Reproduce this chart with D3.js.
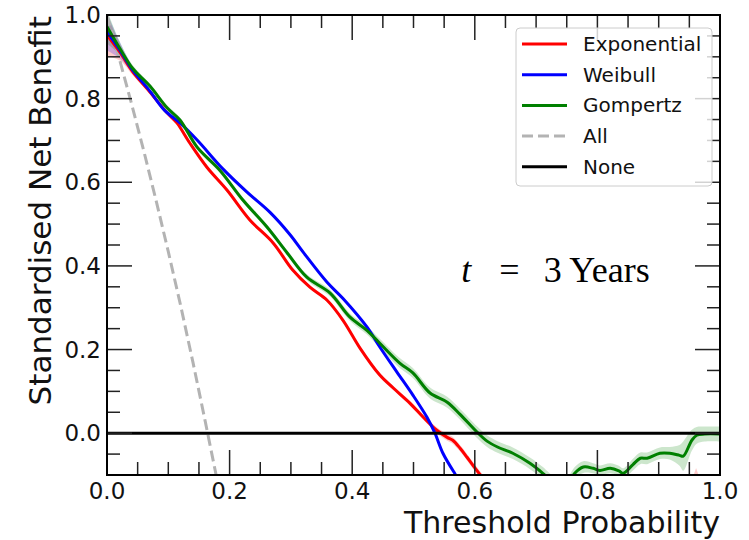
<!DOCTYPE html>
<html><head><meta charset="utf-8">
<script src="https://cdn.jsdelivr.net/npm/d3@7"></script>
<style>body{margin:0;background:#fff}svg{display:block}</style>
</head><body>
<svg id="c" width="749" height="540"></svg>
<script>
// ---- data ----
const expX = [0,0.021,0.042,0.070,0.098,0.114,0.135,0.163,0.196,0.233,0.271,0.303,0.331,0.359,0.385,0.413,0.445,0.467,0.494,0.516,0.538,0.555,0.564,0.576,0.587,0.597,0.608,0.62];
const expY = [0.952,0.911,0.864,0.816,0.766,0.742,0.694,0.636,0.581,0.510,0.455,0.390,0.349,0.318,0.270,0.203,0.139,0.108,0.072,0.038,0.007,-0.010,-0.017,-0.036,-0.057,-0.077,-0.098,-0.12];
const expBand = [0.05,0.02,0.008,0.005,0.004,0.004,0.004,0.004,0.004,0.004,0.004,0.004,0.004,0.004,0.004,0.004,0.005,0.005,0.006,0.006,0.007,0.008,0.008,0.008,0.008,0.008,0.008,0.008];

const weiX = [0,0.021,0.042,0.070,0.094,0.119,0.147,0.189,0.228,0.266,0.299,0.320,0.359,0.385,0.424,0.445,0.473,0.499,0.522,0.535,0.548,0.568,0.58];
const weiY = [0.960,0.916,0.868,0.818,0.772,0.742,0.701,0.632,0.577,0.528,0.474,0.433,0.361,0.322,0.254,0.206,0.146,0.091,0.038,0.0,-0.048,-0.098,-0.125];
const weiBand = [0.045,0.02,0.008,0.004,0.003,0.003,0.003,0.003,0.003,0.003,0.003,0.003,0.003,0.003,0.003,0.003,0.003,0.003,0.003,0.003,0.003,0.003,0.003];

const gomX = [0,0.021,0.042,0.070,0.098,0.119,0.147,0.184,0.222,0.261,0.294,0.326,0.364,0.396,0.424,0.445,0.478,0.499,0.527,0.555,0.576,0.604,0.620,0.637,0.662,0.690,0.711,0.725];
const gomY = [0.972,0.920,0.872,0.830,0.778,0.749,0.684,0.629,0.557,0.493,0.431,0.373,0.335,0.278,0.246,0.215,0.167,0.144,0.096,0.074,0.045,0.002,-0.019,-0.033,-0.048,-0.072,-0.096,-0.115];
const gomBand = [0.04,0.015,0.008,0.006,0.006,0.006,0.006,0.006,0.006,0.006,0.006,0.007,0.008,0.009,0.010,0.011,0.012,0.012,0.013,0.013,0.013,0.014,0.014,0.014,0.014,0.014,0.015,0.015];

const gom2X = [0.755,0.763,0.777,0.793,0.804,0.821,0.835,0.842,0.858,0.870,0.881,0.902,0.918,0.934,0.940,0.954,0.962,0.975,1.0];
const gom2Y = [-0.115,-0.096,-0.081,-0.084,-0.089,-0.084,-0.090,-0.096,-0.075,-0.060,-0.060,-0.048,-0.048,-0.053,-0.055,-0.017,-0.005,-0.002,-0.002];
const gom2Band = [0.015,0.015,0.014,0.012,0.012,0.012,0.012,0.012,0.014,0.014,0.014,0.014,0.015,0.025,0.035,0.025,0.02,0.018,0.018];

const allX = [0,0.02,0.04,0.06,0.08,0.10,0.12,0.14,0.16,0.178];
const allY = [1.0,0.896,0.788,0.675,0.557,0.434,0.306,0.171,0.030,-0.10];

const noneX = [0,1];
const noneY = [0,0];

const spikeX = [0.957,0.961,0.965];
const spikeLo = [-0.12,-0.12,-0.12];
const spikeHi = [-0.1,-0.083,-0.1];

const xTicks = [0,0.2,0.4,0.6,0.8,1.0];
const yTicks = [0,0.2,0.4,0.6,0.8,1.0];
const legendNames = ["Exponential","Weibull","Gompertz","All","None"];
const colors = {Exponential:"#ff0000",Weibull:"#0000ff",Gompertz:"#008000",All:"#b3b3b3",None:"#000000"};

// ---- layout ----
const W=749,H=540;
const m={left:107,top:15,right:29,bottom:65};
const pw=W-m.left-m.right, ph=H-m.top-m.bottom;
const svg=d3.select("#c");
const x=d3.scaleLinear().domain([0,1]).range([m.left,m.left+pw]);
const y=d3.scaleLinear().domain([-0.1,1.0]).range([m.top+ph,m.top]);

svg.append("defs").append("clipPath").attr("id","clip")
  .append("rect").attr("x",m.left).attr("y",m.top).attr("width",pw).attr("height",ph);
const g=svg.append("g").attr("clip-path","url(#clip)");

function pts(xs,ys){return xs.map((v,i)=>[v,ys[i]]);}
const line=d3.line().x(d=>x(d[0])).y(d=>y(d[1])).curve(d3.curveCatmullRom.alpha(0.5));
function band(xs,ys,hw,col,op){
  const a=d3.area().x((d,i)=>x(xs[i])).y0((d,i)=>y(ys[i]-hw[i])).y1((d,i)=>y(ys[i]+hw[i])).curve(d3.curveCatmullRom.alpha(0.5));
  g.append("path").attr("d",a(xs)).attr("fill",col).attr("fill-opacity",op).attr("stroke","none");
}
band(expX,expY,expBand,"#ff0000",0.2);
band(weiX,weiY,weiBand,"#0000ff",0.2);
band(gomX,gomY,gomBand,"#008000",0.2);
band(gom2X,gom2Y,gom2Band,"#008000",0.2);
g.append("path").attr("d",d3.area().x((d,i)=>x(spikeX[i])).y0((d,i)=>y(spikeLo[i])).y1((d,i)=>y(spikeHi[i]))(spikeX)).attr("fill","#ff0000").attr("fill-opacity",0.2);

g.append("path").attr("d",d3.line().x(d=>x(d[0])).y(d=>y(d[1]))(pts(allX,allY))).attr("fill","none")
  .attr("stroke",colors.All).attr("stroke-width",3).attr("stroke-dasharray","11,5");
g.append("path").attr("d",line(pts(expX,expY))).attr("fill","none").attr("stroke",colors.Exponential).attr("stroke-width",3);
g.append("path").attr("d",line(pts(weiX,weiY))).attr("fill","none").attr("stroke",colors.Weibull).attr("stroke-width",3);
g.append("path").attr("d",line(pts(gomX,gomY))).attr("fill","none").attr("stroke",colors.Gompertz).attr("stroke-width",3);
g.append("path").attr("d",line(pts(gom2X,gom2Y))).attr("fill","none").attr("stroke",colors.Gompertz).attr("stroke-width",3);
g.append("path").attr("d",d3.line().x(d=>x(d[0])).y(d=>y(d[1]))(pts(noneX,noneY))).attr("fill","none").attr("stroke",colors.None).attr("stroke-width",3);

// ---- axes (inward ticks on all sides) ----
const font="'DejaVu Sans', sans-serif";
const majLen=25, minLen=13;
const xMinor=d3.range(0,1.0001,0.05).filter(v=>Math.abs(v*5-Math.round(v*5))>1e-6);
const yMinor=d3.range(-0.1,1.0001,0.05).map(v=>Math.round(v*100)/100).filter(v=>Math.abs(v*5-Math.round(v*5))>1e-6);

const ax=svg.append("g").attr("stroke","#222").attr("stroke-width",1.5);
function ticksX(vals,len){
  vals.forEach(v=>{
    ax.append("line").attr("x1",x(v)).attr("x2",x(v)).attr("y1",m.top+ph).attr("y2",m.top+ph-len);
    ax.append("line").attr("x1",x(v)).attr("x2",x(v)).attr("y1",m.top).attr("y2",m.top+len);
  });
}
function ticksY(vals,len){
  vals.forEach(v=>{
    ax.append("line").attr("y1",y(v)).attr("y2",y(v)).attr("x1",m.left).attr("x2",m.left+len);
    ax.append("line").attr("y1",y(v)).attr("y2",y(v)).attr("x1",m.left+pw).attr("x2",m.left+pw-len);
  });
}
ticksX(xTicks,majLen); ticksX(xMinor,minLen);
ticksY(yTicks,majLen); ticksY(yMinor,minLen);

svg.append("rect").attr("x",m.left).attr("y",m.top).attr("width",pw).attr("height",ph)
  .attr("fill","none").attr("stroke","#000").attr("stroke-width",2);

const fmt=d3.format(".1f");
svg.append("g").selectAll("text").data(xTicks).join("text")
  .attr("x",d=>x(d)).attr("y",m.top+ph+24).attr("text-anchor","middle")
  .attr("font-family",font).attr("font-size",23).attr("fill","#111").text(fmt);
svg.append("g").selectAll("text").data(yTicks).join("text")
  .attr("x",m.left-6).attr("y",d=>y(d)+8).attr("text-anchor","end")
  .attr("font-family",font).attr("font-size",23).attr("fill","#111").text(fmt);

svg.append("text").attr("x",m.left+pw).attr("y",532.6).attr("text-anchor","end")
  .attr("font-family",font).attr("font-size",30).attr("fill","#111").text("Threshold Probability");
svg.append("text").attr("transform",`translate(51,${m.top+1}) rotate(-90)`).attr("text-anchor","end")
  .attr("font-family",font).attr("font-size",31).attr("fill","#111").text("Standardised Net Benefit");

// annotation
const ann=svg.append("text").attr("x",x(0.578)).attr("y",y(0.362)).attr("font-family","'Liberation Serif', 'DejaVu Serif', serif")
  .attr("font-size",36).attr("fill","#000");
ann.append("tspan").attr("font-style","italic").text("t");
ann.append("tspan").attr("dx",28).text("=");
ann.append("tspan").attr("dx",24).text("3 Years");

// legend
const lg=svg.append("g");
const lx=m.left+pw-204, ly=m.top+13;
lg.append("rect").attr("x",lx).attr("y",ly).attr("width",196).attr("height",158).attr("rx",4)
  .attr("fill","#fff").attr("fill-opacity",0.8).attr("stroke","#ccc").attr("stroke-width",1);
legendNames.forEach((n,i)=>{
  const yy=ly+16+i*30.7;
  lg.append("line").attr("x1",lx+6).attr("x2",lx+51).attr("y1",yy).attr("y2",yy)
    .attr("stroke",colors[n]).attr("stroke-width",3).attr("stroke-dasharray",n==="All"?"11,5":null);
  lg.append("text").attr("x",lx+67).attr("y",yy+7).attr("font-family",font).attr("font-size",20).attr("fill","#111").text(n);
});
</script>
</body></html>
